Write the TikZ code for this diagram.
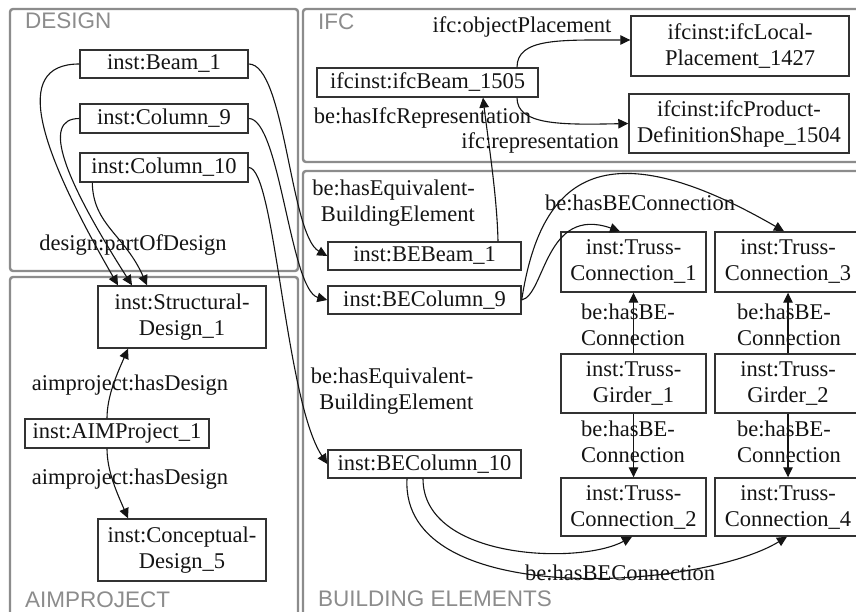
\documentclass[tikz,border=0pt]{standalone}
\usepackage{fontspec}
\setmainfont{Liberation Serif}
\newfontfamily\panelfont{Liberation Sans}
\usetikzlibrary{arrows.meta}
\definecolor{panelgray}{RGB}{140,140,140}
\definecolor{boxgray}{RGB}{50,50,50}
\definecolor{inkc}{RGB}{20,20,20}
\tikzset{
 panel/.style={draw=panelgray, line width=2.4pt, rounded corners=3pt},
 paneltitle/.style={anchor=west, text=panelgray, font=\panelfont\fontsize{22.5}{26}\selectfont, inner sep=0pt},
 ent/.style={draw=boxgray, line width=1.4pt, inner sep=0pt, align=center, font=\fontsize{22.5}{26}\selectfont, text=inkc},
 lbl/.style={inner sep=0pt, font=\fontsize{22.5}{26}\selectfont, text=inkc},
 rel/.style={draw=inkc, line width=1.1pt, -{Triangle[length=10pt,width=9.5pt]}},
}
\begin{document}
\begin{tikzpicture}[x=1pt,y=-1pt]
\useasboundingbox (0,0) rectangle (856,612);
\clip (0,0) rectangle (856,612);
\fill[white] (0,0) rectangle (856,612);
% panels
\draw[panel] (10,9) rectangle (298,271);
\draw[panel] (10,277) rectangle (298,630);
\draw[panel] (303,9) rectangle (875,162);
\draw[panel] (303,171) rectangle (875,630);
\node[paneltitle] (tdesign) at (25,21) {DESIGN};
\node[paneltitle] (tifc) at (318,22) {IFC};
\node[paneltitle] (taim) at (25,600) {AIMPROJECT};
\node[paneltitle] (tbe) at (318,599) {BUILDING ELEMENTS};
% design
\node[ent, minimum width=168pt, minimum height=28pt] (beam) at (164,64) {inst:Beam\_1};
\node[ent, minimum width=168pt, minimum height=29pt] (col9) at (164,118.5) {inst:Column\_9};
\node[ent, minimum width=168pt, minimum height=29pt] (col10) at (164,167.5) {inst:Column\_10};
% aimproject
\node[ent, minimum width=168pt, minimum height=62pt] (struct) at (182,317) {inst:Structural-\\Design\_1};
\node[ent, minimum width=184pt, minimum height=29pt] (aim) at (117,433.5) {inst:AIMProject\_1};
\node[ent, minimum width=168pt, minimum height=62pt] (concept) at (182,550) {inst:Conceptual-\\Design\_5};
% ifc
\node[ent, minimum width=221pt, minimum height=29pt] (ifcbeam) at (427.5,82.5) {ifcinst:ifcBeam\_1505};
\node[ent, minimum width=218pt, minimum height=60pt] (local) at (740,46) {ifcinst:ifcLocal-\\Placement\_1427};
\node[ent, minimum width=220pt, minimum height=59pt] (prod) at (739,123.5) {ifcinst:ifcProduct-\\DefinitionShape\_1504};
% building elements
\node[ent, minimum width=193pt, minimum height=28pt] (bebeam) at (424.5,256) {inst:BEBeam\_1};
\node[ent, minimum width=193pt, minimum height=28pt] (becol9) at (424.5,300) {inst:BEColumn\_9};
\node[ent, minimum width=193pt, minimum height=28pt] (becol10) at (424.5,464) {inst:BEColumn\_10};
\node[ent, minimum width=145pt, minimum height=60pt] (tc1) at (633.5,262) {inst:Truss-\\Connection\_1};
\node[ent, minimum width=146pt, minimum height=60pt] (tc3) at (788,262) {inst:Truss-\\Connection\_3};
\node[ent, minimum width=145pt, minimum height=59pt] (tg1) at (633.5,383.5) {inst:Truss-\\Girder\_1};
\node[ent, minimum width=146pt, minimum height=59pt] (tg2) at (788,383.5) {inst:Truss-\\Girder\_2};
\node[ent, minimum width=145pt, minimum height=58pt] (tc2) at (633.5,507) {inst:Truss-\\Connection\_2};
\node[ent, minimum width=146pt, minimum height=58pt] (tc4) at (788,507) {inst:Truss-\\Connection\_4};
% connectors: partOfDesign
\draw[rel] (beam.west) .. controls (10,64) and (40,150) .. ([xshift=-64pt]struct.north);
\draw[rel] (col9.west) .. controls (40,118.5) and (65,180) .. ([xshift=-50pt]struct.north);
\draw[rel] ([xshift=13pt]col10.south west) .. controls (93,225) and (125,235) .. ([xshift=-35pt]struct.north);
% hasEquivalentBuildingElement
\draw[rel] (beam.east) .. controls (285,64) and (290,235) .. (bebeam.west);
\draw[rel] (col9.east) .. controls (280,118.5) and (290,290) .. (becol9.west);
\draw[rel] (col10.east) .. controls (275,167.5) and (285,400) .. (becol10.west);
% ifc
\draw[rel] ([xshift=73.5pt]bebeam.north) .. controls (497,195) and (488,140) .. ([xshift=55.5pt]ifcbeam.south);
\draw[rel] ([xshift=89.5pt]ifcbeam.north) .. controls (517,38) and (560,40) .. ([yshift=6pt]local.west);
\draw[rel] ([xshift=89.5pt]ifcbeam.south) .. controls (517,125) and (560,125) .. (prod.west);
% hasBEConnection
\draw[rel] (becol9.east) .. controls (545,295) and (545,205) .. ([xshift=-13.5pt]tc1.north);
\draw[rel] (becol9.east) .. controls (540,180) and (600,125) .. ([xshift=-4pt]tc3.north);
\draw[rel] (tg1.north) -- (tc1.south);
\draw[rel] (tg1.south) -- (tc2.north);
\draw[rel] (tg2.north) -- (tc3.south);
\draw[rel] (tg2.south) -- (tc4.north);
\draw[rel] ([xshift=-1.5pt]becol10.south) .. controls (423,560) and (580,565) .. ([xshift=-1.5pt]tc2.south);
\draw[rel] ([xshift=-17.5pt]becol10.south) .. controls (400,610) and (700,590) .. ([xshift=-1pt]tc4.south);
% hasDesign
\draw[rel] ([xshift=-10pt]aim.north) .. controls (107,395) and (118,372) .. ([xshift=-54pt]struct.south);
\draw[rel] ([xshift=-10pt]aim.south) .. controls (107,472) and (118,495) .. ([xshift=-54pt]concept.north);
% labels
\node[lbl] (lpod) at (133,245) {design:partOfDesign};
\node[lbl] (lhd1) at (130,385) {aimproject:hasDesign};
\node[lbl] (lhd2) at (130,479) {aimproject:hasDesign};
\node[lbl] (lop) at (522,27) {ifc:objectPlacement};
\node[lbl] (lhir) at (422.5,118) {be:hasIfcRepresentation};
\node[lbl] (lrep) at (540,143) {ifc:representation};
\node[lbl, align=right] (leq1) at (393.5,203) {be:hasEquivalent-\\BuildingElement};
\node[lbl, align=right] (leq2) at (392,391) {be:hasEquivalent-\\BuildingElement};
\node[lbl] (lbc1) at (640,203) {be:hasBEConnection};
\node[lbl, align=left] (lbe1) at (633,325) {be:hasBE-\\Connection};
\node[lbl, align=left] (lbe2) at (633,442) {be:hasBE-\\Connection};
\node[lbl, align=left] (lbe3) at (789,325) {be:hasBE-\\Connection};
\node[lbl, align=left] (lbe4) at (789,442) {be:hasBE-\\Connection};
\node[lbl] (lbc2) at (620,573) {be:hasBEConnection};
\end{tikzpicture}
\end{document}
